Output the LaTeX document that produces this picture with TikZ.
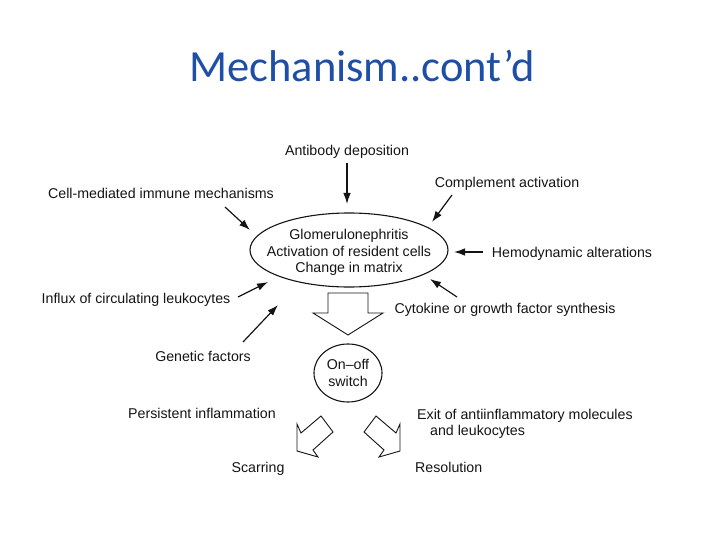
\documentclass[tikz,border=0pt]{standalone}
\usepackage{fontspec}
\setmainfont{Liberation Sans}
\newfontfamily\titlefont{Carlito}
\usetikzlibrary{arrows.meta,shapes.geometric}
\definecolor{titleblue}{RGB}{30,78,165}
\definecolor{ink}{RGB}{20,20,20}
\begin{document}
\begin{tikzpicture}[x=1pt,y=-1pt,
  lbl/.style={font=\fontsize{14.2}{16.5}\selectfont, text=ink, inner sep=0pt, text height=10pt, text depth=3pt, yshift=-1.5pt},
  arr/.style={draw=ink, line width=1.2pt, -{Latex[length=11pt,width=7.5pt]}},
  blk/.style={draw=ink, line width=0.9pt, fill=white, line join=miter}]
\useasboundingbox (0,0) rectangle (720,540);
% title
\node[font=\titlefont\fontsize{44.5}{50}\selectfont, text=titleblue, anchor=base, inner sep=0pt] (title) at (362,82) {Mechanism..cont’d};
% central ellipse
\node[draw=ink, line width=1.1pt, ellipse, minimum width=198pt, minimum height=74pt, inner sep=0pt] (gn) at (349,250) {};
\node[font=\fontsize{14.2}{16.5}\selectfont, text=ink, inner sep=0pt, align=center, yshift=-2.5pt] (gntext) at (gn.center) {Glomerulonephritis\\Activation of resident cells\\Change in matrix};
% labels
\node[lbl] (ab) at (347,151) {Antibody deposition};
\node[lbl] (ca) at (507,183) {Complement activation};
\node[lbl] (cm) at (161,194) {Cell-mediated immune mechanisms};
\node[lbl] (hd) at (572,252) {Hemodynamic alterations};
\node[lbl] (cy) at (505,308) {Cytokine or growth factor synthesis};
\node[lbl] (in) at (136,298) {Influx of circulating leukocytes};
\node[lbl] (ge) at (203,356) {Genetic factors};
\node[lbl] (pe) at (202,413) {Persistent inflammation};
\node[lbl] (sc) at (258,467) {Scarring};
\node[lbl, anchor=west] (ex) at (417,414) {Exit of antiinflammatory molecules};
\node[lbl, anchor=west] (ex2) at (430,430) {and leukocytes};
\node[lbl, anchor=west] (re) at (415,467) {Resolution};
% on-off switch
\node[draw=ink, line width=1.1pt, ellipse, minimum width=68pt, minimum height=58pt, inner sep=0pt, align=center, font=\fontsize{14.2}{17}\selectfont, text=ink] (sw) at (348,373) {On–off\\switch};
% arrow end points
\coordinate (abT) at (347,163); \coordinate (abH) at (347,204);
\coordinate (caT) at (452,195); \coordinate (caH) at (432,222);
\coordinate (cmT) at (225,207); \coordinate (cmH) at (250,230);
\coordinate (hdT) at (483,252); \coordinate (hdH) at (454,252);
\coordinate (cyT) at (457,297); \coordinate (cyH) at (430,279);
\coordinate (inT) at (238,297); \coordinate (inH) at (268,282);
\coordinate (geT) at (243,342); \coordinate (geH) at (278,305);
\draw[arr] (abT) -- (abH);
\draw[arr] (caT) -- (caH);
\draw[arr] (cmT) -- (cmH);
\draw[arr] (hdT) -- (hdH);
\draw[arr] (cyT) -- (cyH);
\draw[arr] (inT) -- (inH);
\draw[arr] (geT) -- (geH);
% block arrows
\draw[blk] (328,293) -- (368,293) -- (368,313) -- (383,313) -- (348,335) -- (313,313) -- (328,313) -- cycle;
\draw[blk] (297,451) -- (297,424) -- (301,433) -- (321,416) -- (333,432) -- (313,450) -- (318,457) -- cycle;
\draw[blk] (400,451) -- (400,424) -- (396,433) -- (376,416) -- (364,432) -- (384,450) -- (379,457) -- cycle;
\end{tikzpicture}
\end{document}
